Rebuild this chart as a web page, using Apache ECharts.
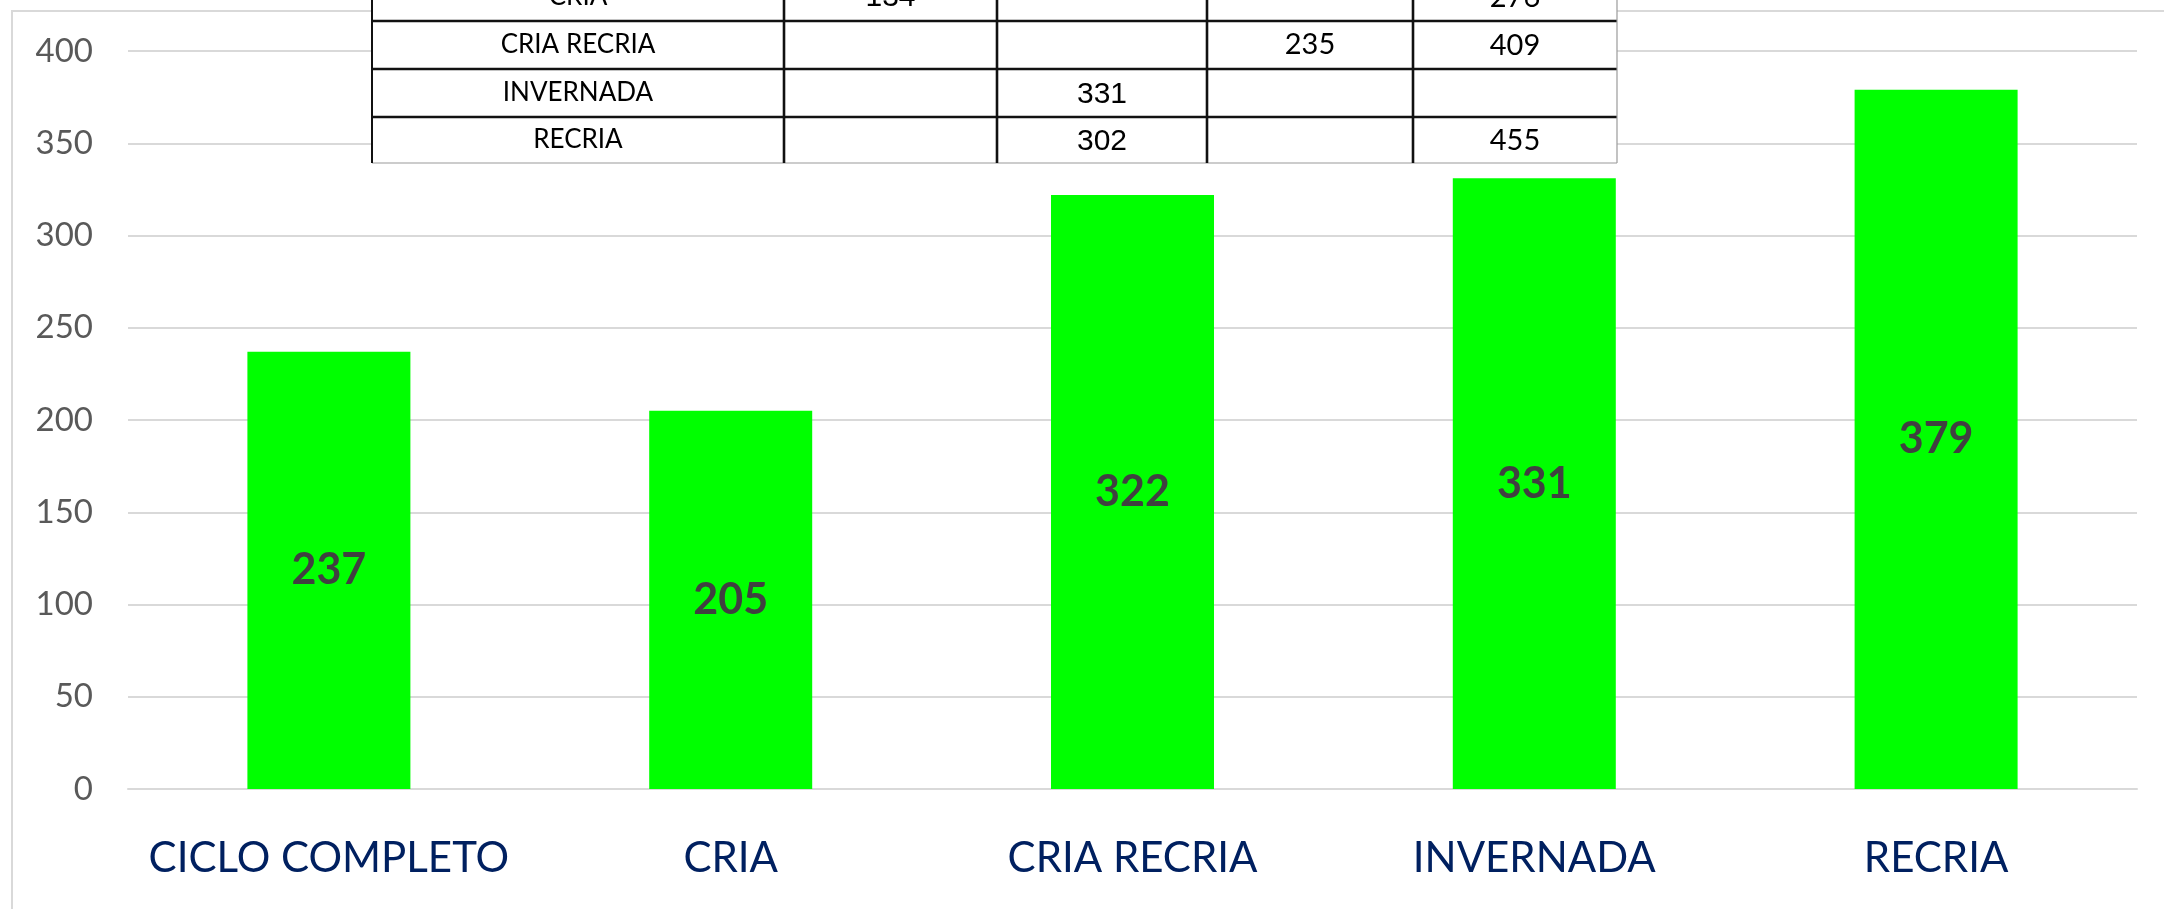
<!DOCTYPE html>
<html>
<head>
<meta charset="utf-8">
<script src="https://cdn.jsdelivr.net/npm/echarts@6/dist/echarts.min.js"></script>
<style>
  html, body { margin: 0; padding: 0; background: #fff; }
  #chart { width: 2164px; height: 909px; }
</style>
</head>
<body>
<div id="chart"></div>
<script>
  // bar chart data
  var categories = ['CICLO COMPLETO', 'CRIA', 'CRIA RECRIA', 'INVERNADA', 'RECRIA']
  var values = [237, 205, 322, 331, 379]
  var yTicks = [0, 50, 100, 150, 200, 250, 300, 350, 400]

  // table pasted over the top of the chart
  var tableRows = ['CRIA', 'CRIA RECRIA', 'INVERNADA', 'RECRIA']
  var tableCol1 = [134, null, null, null]
  var tableCol2 = [null, null, 331, 302]
  var tableCol3 = [null, 235, null, null]
  var tableCol4 = [276, 409, null, 455]

  var myChart = echarts.init(document.getElementById('chart'))

  // table layout
  var colX = [372, 784, 997, 1207, 1413, 1617]
  var rowY = [-27, 21, 69, 117, 163]
  var colFonts = ['Lato', 'Liberation Sans', 'Liberation Sans', 'Lato', 'Lato']
  var colSizes = [26, 30, 30, 29, 29]
  var colShift = [0, 1, 2, 0, 1]

  var tableCols = [tableRows, tableCol1, tableCol2, tableCol3, tableCol4]
  var graphics = [{
    type: 'rect',
    shape: { x: 12, y: 11, width: 2300, height: 1000 },
    style: { fill: null, stroke: '#d9d9d9', lineWidth: 2 },
    z: 0,
    silent: true
  }, {
    type: 'rect',
    shape: { x: colX[0], y: rowY[0], width: colX[5] - colX[0], height: rowY[4] - rowY[0] },
    style: { fill: '#fff' },
    z: 100
  }]
  // horizontal lines
  for (var r = 1; r < rowY.length - 1; r++) {
    graphics.push({
      type: 'line',
      shape: { x1: colX[0], y1: rowY[r], x2: colX[5], y2: rowY[r] },
      style: { stroke: '#111', lineWidth: 2.5 },
      z: 101
    })
  }
  graphics.push({
    type: 'line',
    shape: { x1: colX[0], y1: rowY[4], x2: colX[5], y2: rowY[4] },
    style: { stroke: '#9a9a9a', lineWidth: 1.2 },
    z: 101
  })
  // vertical lines
  for (var c = 0; c < colX.length; c++) {
    var last = c === colX.length - 1
    graphics.push({
      type: 'line',
      shape: { x1: colX[c], y1: rowY[0], x2: colX[c], y2: rowY[4] },
      style: { stroke: last ? '#9a9a9a' : '#111', lineWidth: last ? 1.2 : (c === 0 ? 2 : 2.6) },
      z: 101
    })
  }
  // cell texts
  tableCols.forEach(function (col, ci) {
    col.forEach(function (v, ri) {
      if (v === null) return
      graphics.push({
        type: 'text',
        z: 102,
        style: {
          text: String(v),
          x: (colX[ci] + colX[ci + 1]) / 2,
          y: (rowY[ri] + rowY[ri + 1]) / 2 + colShift[ci],
          fontFamily: colFonts[ci],
          fontSize: colSizes[ci],
          fill: '#000',
          textAlign: 'center',
          textVerticalAlign: 'middle',
          align: 'center',
          verticalAlign: 'middle'
        }
      })
    })
  })

  var option = {
    animation: false,
    backgroundColor: '#fff',
    grid: {
      left: 128,
      right: 27,
      top: 51,
      bottom: 120
    },
    xAxis: {
      type: 'category',
      data: categories,
      axisLine: {
        show: true,
        lineStyle: { color: '#d9d9d9', width: 2 }
      },
      axisTick: { show: false },
      axisLabel: {
        interval: 0,
        color: '#002060',
        fontFamily: 'Lato',
        fontSize: 42,
        margin: 48
      }
    },
    yAxis: {
      type: 'value',
      min: yTicks[0],
      max: yTicks[yTicks.length - 1],
      interval: yTicks[1] - yTicks[0],
      axisLine: { show: false },
      axisTick: { show: false },
      axisLabel: {
        color: '#595959',
        fontFamily: 'Lato',
        fontSize: 33,
        margin: 35
      },
      splitLine: {
        lineStyle: { color: '#d9d9d9', width: 2 }
      }
    },
    series: [{
      type: 'bar',
      data: values,
      barWidth: 163,
      itemStyle: { color: '#00ff00' },
      label: {
        show: true,
        position: 'inside',
        color: '#404040',
        fontFamily: 'Lato',
        fontWeight: 'bold',
        fontSize: 43
      }
    }],
    graphic: graphics
  }
  option && myChart.setOption(option)
  window.addEventListener('resize', myChart.resize)
</script>
</body>
</html>
